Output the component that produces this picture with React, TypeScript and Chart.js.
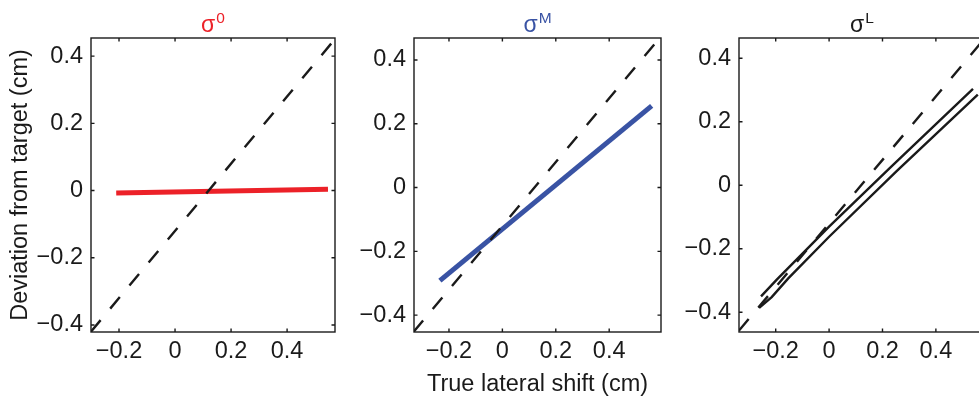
import React, { useEffect, useRef } from 'react';
import { Chart, registerables } from 'chart.js';

Chart.register(...registerables);

// ---------- data ----------
const X_TICKS = [-0.2, 0, 0.2, 0.4];
const Y_TICKS = [-0.4, -0.2, 0, 0.2, 0.4];

// panel 1 : sigma^0
const P1_X_RANGE = [-0.3, 0.571];
const P1_Y_RANGE = [-0.421, 0.454];
const P1_DASH_X = [-0.3, 0.571];
const P1_DASH_Y = [-0.42, 0.451];
const P1_RED_X = [-0.21, 0.546];
const P1_RED_Y = [-0.007, 0.004];

// panel 2 : sigma^M
const P2_X_RANGE = [-0.331, 0.594];
const P2_Y_RANGE = [-0.453, 0.469];
const P2_DASH_X = [-0.333, 0.594];
const P2_DASH_Y = [-0.453, 0.474];
const P2_BLUE_X = [-0.234, 0.559];
const P2_BLUE_Y = [-0.292, 0.256];

// panel 3 : sigma^L
const P3_X_RANGE = [-0.3375, 0.584];
const P3_Y_RANGE = [-0.462, 0.464];
const P3_DASH_X = [-0.3375, 0.584];
const P3_DASH_Y = [-0.4575, 0.464];
const P3_UPPER_X = [-0.255, -0.196, 0.0, 0.228, 0.539];
const P3_UPPER_Y = [-0.35, -0.297, -0.13, 0.055, 0.304];
const P3_LOWER_X = [-0.262, -0.215, -0.153, 0.0, 0.253, 0.557];
const P3_LOWER_Y = [-0.386, -0.352, -0.293, -0.162, 0.045, 0.286];

const TITLES = ['0', 'M', 'L'];
const Y_LABEL = 'Deviation from target (cm)';
const X_LABEL = 'True lateral shift (cm)';

// ---------- styles ----------
const FONT_FAMILY = '"Liberation Sans", Arial, Helvetica, sans-serif';
const INK = '#1a1a1a';
const RED = '#ec2128';
const BLUE = '#3953a4';
const DASH = [15, 15];

const fmt = (v: number) =>
  Math.abs(v) < 1e-9 ? '0' : (v < 0 ? '\u2212' : '') + Math.abs(v).toFixed(1);

const framePlugin = {
  id: 'frame',
  afterDatasetsDraw(chart: any, _args: any, opts: any) {
    const { ctx, chartArea: a, scales } = chart;
    ctx.save();
    ctx.strokeStyle = INK;
    ctx.lineWidth = 1.4;
    ctx.strokeRect(a.left, a.top, a.right - a.left, a.bottom - a.top);
    const L = 3.5;
    ctx.beginPath();
    scales.x.ticks.forEach((t: any) => {
      const px = scales.x.getPixelForValue(t.value);
      ctx.moveTo(px, a.bottom);
      ctx.lineTo(px, a.bottom - L);
      ctx.moveTo(px, a.top);
      ctx.lineTo(px, a.top + L);
    });
    scales.y.ticks.forEach((t: any) => {
      const py = scales.y.getPixelForValue(t.value);
      ctx.moveTo(a.left, py);
      ctx.lineTo(a.left + L, py);
      ctx.moveTo(a.right, py);
      ctx.lineTo(a.right - L, py);
    });
    ctx.stroke();

    // title: sigma with superscript
    ctx.textBaseline = 'alphabetic';
    ctx.textAlign = 'left';
    ctx.font = `23px ${FONT_FAMILY}`;
    const w1 = ctx.measureText('\u03c3').width;
    ctx.font = `15.5px ${FONT_FAMILY}`;
    const w2 = ctx.measureText(opts.sup).width;
    const gap = 1;
    const cx = (a.left + a.right) / 2;
    const x0 = cx - (w1 + gap + w2) / 2;
    ctx.fillStyle = opts.color;
    ctx.font = `23px ${FONT_FAMILY}`;
    ctx.fillText('\u03c3', x0, 31.7);
    ctx.font = `15.5px ${FONT_FAMILY}`;
    ctx.fillText(opts.sup, x0 + w1 + gap, 23.3);
    ctx.restore();
  },
};

type Series = { xs: number[]; ys: number[]; color: string; width: number; dash?: number[] };
type Panel = {
  left: number;
  width: number;
  yAxisWidth: number;
  padRight: number;
  xRange: number[];
  yRange: number[];
  series: Series[];
  sup: string;
  titleColor: string;
  yTitle?: string;
  xTitle?: string;
};

const PANELS: Panel[] = [
  {
    left: 0, width: 340, yAxisWidth: 91, padRight: 5,
    xRange: P1_X_RANGE, yRange: P1_Y_RANGE,
    series: [
      { xs: P1_DASH_X, ys: P1_DASH_Y, color: INK, width: 2.4, dash: DASH },
      { xs: P1_RED_X, ys: P1_RED_Y, color: RED, width: 5 },
    ],
    sup: TITLES[0], titleColor: RED, yTitle: Y_LABEL,
  },
  {
    left: 340, width: 330, yAxisWidth: 74, padRight: 9,
    xRange: P2_X_RANGE, yRange: P2_Y_RANGE,
    series: [
      { xs: P2_DASH_X, ys: P2_DASH_Y, color: INK, width: 2.4, dash: DASH },
      { xs: P2_BLUE_X, ys: P2_BLUE_Y, color: BLUE, width: 5 },
    ],
    sup: TITLES[1], titleColor: BLUE, xTitle: X_LABEL,
  },
  {
    left: 670, width: 320, yAxisWidth: 69, padRight: 5,
    xRange: P3_X_RANGE, yRange: P3_Y_RANGE,
    series: [
      { xs: P3_DASH_X, ys: P3_DASH_Y, color: INK, width: 2.4, dash: DASH },
      { xs: P3_UPPER_X, ys: P3_UPPER_Y, color: INK, width: 2.4 },
      { xs: P3_LOWER_X, ys: P3_LOWER_Y, color: INK, width: 2.4 },
    ],
    sup: TITLES[2], titleColor: INK,
  },
];

const HEIGHT = 399;

function PanelChart({ p }: { p: Panel }) {
  const ref = useRef<HTMLCanvasElement | null>(null);
  useEffect(() => {
    if (!ref.current) return;
    const tickFont = { family: FONT_FAMILY, size: 23.5 };
    const chart = new Chart(ref.current, {
      type: 'line',
      data: {
        datasets: p.series.map((s) => ({
          data: s.xs.map((x, i) => ({ x, y: s.ys[i] })),
          borderColor: s.color,
          borderWidth: s.width,
          borderDash: s.dash || [],
          borderCapStyle: 'butt',
          pointRadius: 0,
          fill: false,
          tension: 0,
        })),
      },
      options: {
        responsive: false,
        animation: false,
        devicePixelRatio: 1,
        layout: { padding: { top: 38, right: p.padRight, left: 0, bottom: 0 } },
        plugins: {
          legend: { display: false },
          tooltip: { enabled: false },
          frame: { sup: p.sup, color: p.titleColor },
        } as any,
        scales: {
          x: {
            type: 'linear',
            min: p.xRange[0],
            max: p.xRange[1],
            afterBuildTicks: (s: any) => {
              s.ticks = X_TICKS.map((v) => ({ value: v }));
            },
            afterFit: (s: any) => {
              s.height = 67;
            },
            grid: { display: false, drawTicks: false },
            border: { display: false },
            ticks: {
              padding: 5,
              color: INK,
              font: tickFont,
              autoSkip: false,
              maxRotation: 0,
              callback: (v: any) => fmt(Number(v)),
            },
            title: {
              display: !!p.xTitle,
              text: p.xTitle || '',
              color: INK,
              font: { family: FONT_FAMILY, size: 23.5 },
              padding: { top: 0, bottom: 0 },
            },
          },
          y: {
            type: 'linear',
            min: p.yRange[0],
            max: p.yRange[1],
            afterBuildTicks: (s: any) => {
              s.ticks = Y_TICKS.map((v) => ({ value: v }));
            },
            afterFit: (s: any) => {
              s.width = p.yAxisWidth;
            },
            grid: { display: false, drawTicks: false },
            border: { display: false },
            ticks: {
              padding: 8,
              color: INK,
              font: tickFont,
              autoSkip: false,
              callback: (v: any) => fmt(Number(v)),
            },
            title: {
              display: !!p.yTitle,
              text: p.yTitle || '',
              color: INK,
              font: { family: FONT_FAMILY, size: 23.5 },
              padding: { top: 6.4, bottom: 0 },
            },
          },
        },
      } as any,
      plugins: [framePlugin as any],
    });
    return () => chart.destroy();
  }, [p]);
  return (
    <canvas
      ref={ref}
      width={p.width}
      height={HEIGHT}
      style={{ position: 'absolute', left: p.left, top: 0, width: p.width, height: HEIGHT }}
    />
  );
}

export default function App() {
  return (
    <div
      style={{
        position: 'absolute',
        left: 0,
        top: 0,
        width: 979,
        height: HEIGHT,
        overflow: 'hidden',
        background: '#ffffff',
      }}
    >
      {PANELS.map((p, i) => (
        <PanelChart key={i} p={p} />
      ))}
    </div>
  );
}
